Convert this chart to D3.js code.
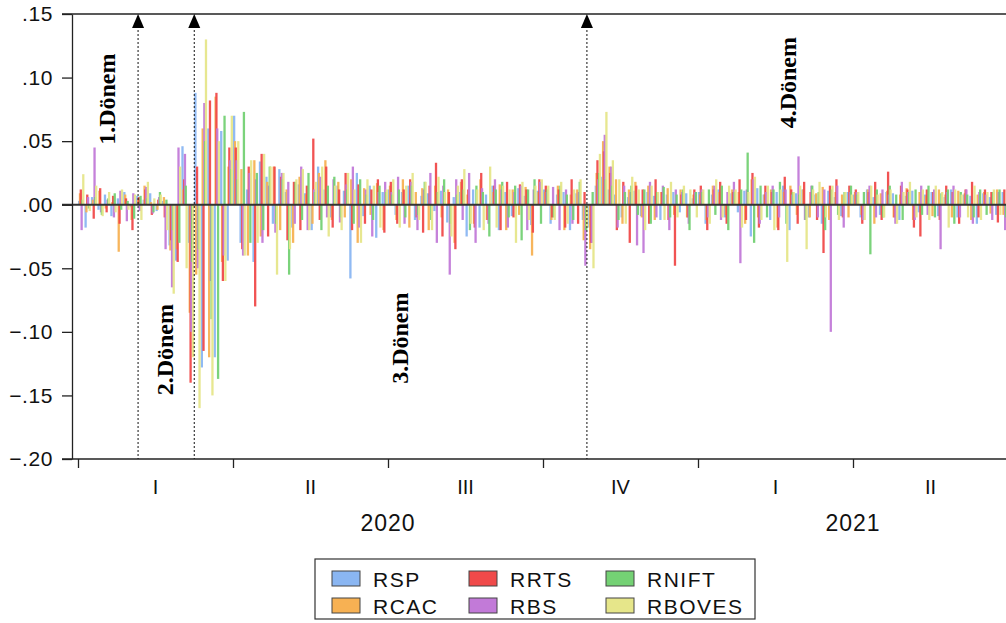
<!DOCTYPE html>
<html>
<head>
<meta charset="utf-8">
<script src="https://cdn.jsdelivr.net/npm/d3@7"></script>
<style>
  body { margin: 0; background: #fff; }
  svg { display: block; }
</style>
</head>
<body>
<script>
// daily returns, one row per quarter (24 obs each), 2020Q1 .. 2021Q2
const rsp = [
  .003,-.018,.006,-.004,.008,-.009,.005,.010,-.002,.007,.004,.009,-.005,.003,-.032,-.044,.046,-.03,.088,-.128,.06,-.12,.058,-.044,
  .07,-.03,.012,-.045,.034,.022,-.015,.028,.01,-.018,.016,.009,-.02,.03,.012,-.01,.015,.011,-.058,.025,-.009,.015,-.026,.01,
  .012,-.008,.01,.015,-.012,.007,.009,-.005,.011,-.014,.006,.01,-.025,.012,-.018,.008,.015,-.02,.01,-.009,.013,.007,-.016,.011,
  .012,-.015,.008,.01,-.02,.009,-.012,-.018,.015,.022,.012,.008,-.01,.006,.011,-.009,.01,.007,-.012,.008,.01,-.006,.009,.005,
  .01,-.015,.008,.012,-.01,.009,-.006,.011,-.025,.013,.008,-.012,.01,.015,-.02,.009,.012,-.01,.008,-.015,.011,.006,-.009,.01,
  .008,-.01,.012,.006,-.008,.01,.009,-.012,.007,.011,-.006,.008,.01,-.009,.006,.012,-.01,.008,.007,-.015,.009,.006,-.008,.01
];
const rcac = [
  .009,-.006,.004,.011,-.003,.002,-.037,.008,-.012,.004,.015,.002,-.004,.006,-.036,-.035,.012,-.085,-.055,.06,-.12,.085,-.045,.03,
  .05,.028,-.04,.035,-.025,.018,.03,-.02,.012,-.03,.022,.008,-.015,.025,.035,-.012,.018,-.01,.02,-.03,.013,-.008,.017,-.02,
  .015,-.012,.02,-.018,.01,.013,-.02,.015,-.01,.012,-.03,.018,.008,-.015,.02,-.012,.01,.016,-.02,.012,-.008,.014,-.04,.01,
  .01,-.012,.015,-.02,.008,.012,-.028,-.035,.025,.05,.03,.02,-.015,.012,.018,-.01,.015,-.012,.01,.013,-.008,.012,-.01,.008,
  .008,-.012,.015,.01,-.008,.012,.01,-.015,.02,-.01,.008,.012,-.018,.01,.015,-.008,.012,-.01,.009,.014,-.012,.01,.008,-.01,
  .01,-.008,.012,-.015,.009,.011,-.01,.008,.013,-.012,.01,.007,-.009,.012,.008,-.01,.011,.009,-.012,.008,.01,-.007,.012,-.008
];
const rrts = [
  .012,.008,-.011,.013,-.006,.007,-.015,.005,-.02,.006,.012,-.008,.004,-.01,-.028,-.045,.02,-.14,.03,-.115,.082,.088,-.06,.045,
  .045,-.035,.03,-.08,.04,-.025,.03,.022,-.028,.018,-.02,.015,.052,-.012,.03,-.018,.012,.025,-.02,.016,-.015,.012,.02,-.022,
  .018,-.015,.012,.02,-.01,-.022,.015,.033,-.025,.01,-.035,.02,.012,-.018,.025,-.012,.015,-.02,.018,-.01,.016,.012,-.022,.02,
  .015,-.01,.012,-.018,.02,-.015,.01,-.03,.035,.042,.025,-.02,.018,-.03,.015,.012,-.015,.02,.01,-.012,-.048,.008,-.01,.012,
  .015,-.02,.012,.018,-.015,.01,.02,-.012,.025,-.018,.015,.01,-.02,.022,.012,-.015,.018,.01,-.012,-.038,.015,.02,-.01,.015,
  .012,-.015,.01,.018,-.012,.026,-.01,.015,.012,-.018,-.025,.012,.01,-.012,.015,.01,-.015,.012,.018,-.01,.012,.01,-.014,.012
];
const rbs = [
  -.02,.006,.045,-.006,.004,-.01,.011,-.013,.009,-.005,.014,-.007,.006,-.035,-.065,.045,.04,-.10,-.05,.08,-.06,.06,-.04,.035,
  .035,-.04,.025,.02,-.03,.015,-.022,.025,.018,-.015,.03,-.02,.012,.022,-.01,.02,-.014,.016,.03,-.018,.012,-.025,.01,.018,
  .01,.022,-.015,.018,-.02,.012,.025,-.03,.015,-.055,.02,-.012,.025,-.03,.013,-.015,.02,.012,-.018,.01,.015,-.02,.012,.018,
  .01,.014,-.02,.012,-.015,.01,-.048,-.03,.02,.055,.03,-.018,.015,.01,-.032,-.038,.018,-.01,.015,-.02,.012,.01,-.015,.01,
  .012,-.01,.015,-.012,.01,.018,-.046,.012,.02,-.015,.01,.015,-.01,.012,.008,.038,-.012,.015,-.01,.012,-.10,.015,-.018,.01,
  .01,-.012,.015,-.01,.012,.008,-.015,.018,.01,-.012,.015,-.008,.012,-.035,.01,.015,-.01,.012,-.015,.01,.008,-.012,.01,-.02
];
const rnift = [
  .004,-.003,.006,-.008,.005,.009,-.004,.003,-.011,.007,.005,-.006,.01,.004,-.02,-.03,.015,-.045,-.035,.05,-.09,-.137,.07,.028,
  .02,.073,-.03,.025,-.02,.03,-.015,.02,-.055,.018,-.012,.025,.01,-.02,.015,.022,-.01,.012,-.015,.02,.008,-.012,.015,.01,
  .008,.012,-.01,.015,-.008,.018,-.012,.01,.02,-.015,.008,.012,-.02,.015,.01,-.025,.012,.018,-.01,.015,-.028,.012,.02,-.015,
  .012,-.01,.015,.008,-.012,.018,-.02,.01,.025,.02,.015,-.012,.01,.015,-.008,.012,-.015,.01,.014,-.01,.008,.012,-.02,.01,
  .01,.012,-.008,.015,-.02,.01,.012,.041,-.03,.015,-.01,.012,.018,-.015,.01,.008,-.012,.015,.01,-.02,.012,-.008,.01,.015,
  .008,.01,-.039,.012,-.01,.015,.008,-.012,.01,.012,-.008,.015,-.01,.009,.012,-.015,.01,.008,-.01,.012,-.008,.01,.012,-.01
];
const rboves = [
  .024,-.005,.015,-.009,.01,-.006,.012,-.004,.008,-.012,.018,.005,.008,-.02,-.07,.03,-.05,-.12,-.16,.13,-.15,.05,-.06,.07,
  .05,-.04,.035,-.03,.04,.03,-.055,.025,-.035,.02,.028,-.02,.018,.03,-.025,.015,-.02,.025,.012,-.03,.02,.015,-.018,.012,
  .02,-.018,.015,.025,-.012,.018,-.02,.022,.01,-.025,.015,.028,-.015,.012,-.02,.03,-.018,.015,.012,-.03,.018,-.012,.015,.02,
  .015,-.012,.018,-.015,.012,.02,-.018,-.05,.04,.073,.035,.02,-.015,.022,.012,-.02,.015,.01,-.012,.018,-.01,.015,.012,-.01,
  .012,-.015,.02,-.01,.015,.012,-.018,.01,.022,-.012,.015,-.02,.012,-.045,.01,.015,-.035,.012,.018,-.01,.015,-.012,.01,.008,
  .01,-.012,.015,.008,-.01,.012,-.015,.01,.018,-.01,.012,-.012,.015,.01,-.018,.012,.008,-.01,.015,-.012,.01,.012,-.008,.01
];

const seriesNames = ["RSP", "RCAC", "RRTS", "RBS", "RNIFT", "RBOVES"];
const seriesValues = [rsp, rcac, rrts, rbs, rnift, rboves];
const colors = ["#8ab6f2", "#f7b153", "#f04a4a", "#c27ad8", "#74d174", "#e6e68a"];

const quarterTicks = [0, 24, 48, 72, 96, 120, 144];
const quarterLabels = ["I", "II", "III", "IV", "I", "II"];
const years = ["2020", "2021"];
const yTicks = [.15, .10, .05, 0, -.05, -.10, -.15, -.20];

// period breaks (observation index) and labels
const breaks = [9.3, 18, 78.8];
const periods = [
  {label: "1.Dönem", i: 4.5, v: .083},
  {label: "2.Dönem", i: 13.5, v: -.114},
  {label: "3.Dönem", i: 49.9, v: -.105},
  {label: "4.Dönem", i: 110, v: .096}
];

const width = 1006, height = 623;
const svg = d3.select("body").append("svg")
  .attr("width", width)
  .attr("height", height)
  .style("background", "#fff");

const x = d3.scaleLinear().domain([0, 144]).range([78, 1008]);
const y = d3.scaleLinear().domain([-.20, .15]).range([459, 14]);
const slot = x(1) - x(0);

// bars
seriesValues.forEach((vals, k) => {
  svg.append("g")
    .selectAll("rect")
    .data(vals)
    .join("rect")
    .attr("x", (d, i) => x(i) + k * (slot - 1.5) / 6)
    .attr("width", 2.3)
    .attr("y", d => y(Math.max(d, 0)))
    .attr("height", d => Math.abs(y(d) - y(0)))
    .attr("fill", colors[k])
    .attr("opacity", 0.95);
});

// frame top line
svg.append("line")
  .attr("x1", 62).attr("x2", width)
  .attr("y1", y(.15)).attr("y2", y(.15))
  .attr("stroke", "#222").attr("stroke-width", 1.3);

// zero line
svg.append("line")
  .attr("x1", 62).attr("x2", width)
  .attr("y1", y(0)).attr("y2", y(0))
  .attr("stroke", "#333").attr("stroke-width", 2);

// left axis
const fmt = d => d3.format(".2f")(d).replace("0.", ".");
const yAxis = svg.append("g")
  .attr("transform", "translate(72,0)")
  .call(d3.axisLeft(y).tickValues(yTicks).tickFormat(fmt).tickSize(10).tickSizeOuter(0));
yAxis.selectAll("text")
  .attr("x", -19)
  .style("font-family", "Liberation Sans, Arial, sans-serif")
  .style("font-size", "21px")
  .style("letter-spacing", "0.6px")
  .attr("fill", "#111");

// bottom axis
const xAxis = svg.append("g")
  .attr("transform", "translate(0,459)")
  .call(d3.axisBottom(x).tickValues(quarterTicks).tickFormat("").tickSize(9).tickSizeOuter(0));
xAxis.select(".domain").attr("d", "M62,0H" + width);
svg.selectAll(".domain, .tick line").attr("stroke", "#222").attr("stroke-width", 1.3);

svg.append("g")
  .selectAll("text")
  .data(quarterLabels)
  .join("text")
  .attr("x", (d, i) => (x(quarterTicks[i]) + x(quarterTicks[i + 1])) / 2)
  .attr("y", 494)
  .attr("text-anchor", "middle")
  .style("font-family", "Liberation Sans, Arial, sans-serif")
  .style("font-size", "20px")
  .attr("fill", "#111")
  .text(d => d);

svg.append("g")
  .selectAll("text")
  .data(years)
  .join("text")
  .attr("x", (d, i) => x(48 + i * 72))
  .attr("y", 531)
  .attr("text-anchor", "middle")
  .style("font-family", "Liberation Sans, Arial, sans-serif")
  .style("font-size", "23px")
  .style("letter-spacing", "1px")
  .attr("fill", "#111")
  .text(d => d);

// period boundaries with arrows
breaks.forEach(b => {
  svg.append("line")
    .attr("x1", x(b)).attr("x2", x(b))
    .attr("y1", 26).attr("y2", 459)
    .attr("stroke", "#111").attr("stroke-width", 1)
    .attr("stroke-dasharray", "2,2");
  svg.append("path")
    .attr("d", d3.line()([[x(b) - 6, 28], [x(b), 14], [x(b) + 6, 28]]) + "Z")
    .attr("fill", "#000");
});

periods.forEach(p => {
  svg.append("text")
    .attr("transform", "translate(" + (x(p.i) + 8) + "," + y(p.v) + ") rotate(-90)")
    .attr("text-anchor", "middle")
    .style("font-family", "Liberation Serif, Times New Roman, serif")
    .style("font-weight", "bold")
    .style("font-size", "24px")
    .attr("fill", "#000")
    .text(p.label);
});

// legend
const legend = svg.append("g").attr("transform", "translate(315,559)");
legend.append("rect")
  .attr("width", 440).attr("height", 60)
  .attr("fill", "#fff").attr("stroke", "#333").attr("stroke-width", 1.2);
seriesNames.forEach((name, k) => {
  const col = Math.floor(k / 2), row = k % 2;
  const g = legend.append("g")
    .attr("transform", "translate(" + (17 + col * 137) + "," + (12 + row * 27) + ")");
  g.append("rect")
    .attr("width", 28).attr("height", 15)
    .attr("fill", colors[k]).attr("stroke", "#444").attr("stroke-width", 1);
  g.append("text")
    .attr("x", 41).attr("y", 15.5)
    .style("font-family", "Liberation Sans, Arial, sans-serif")
    .style("font-size", "21px")
    .style("letter-spacing", "1.5px")
    .attr("fill", "#111")
    .text(name);
});
</script>
</body>
</html>
